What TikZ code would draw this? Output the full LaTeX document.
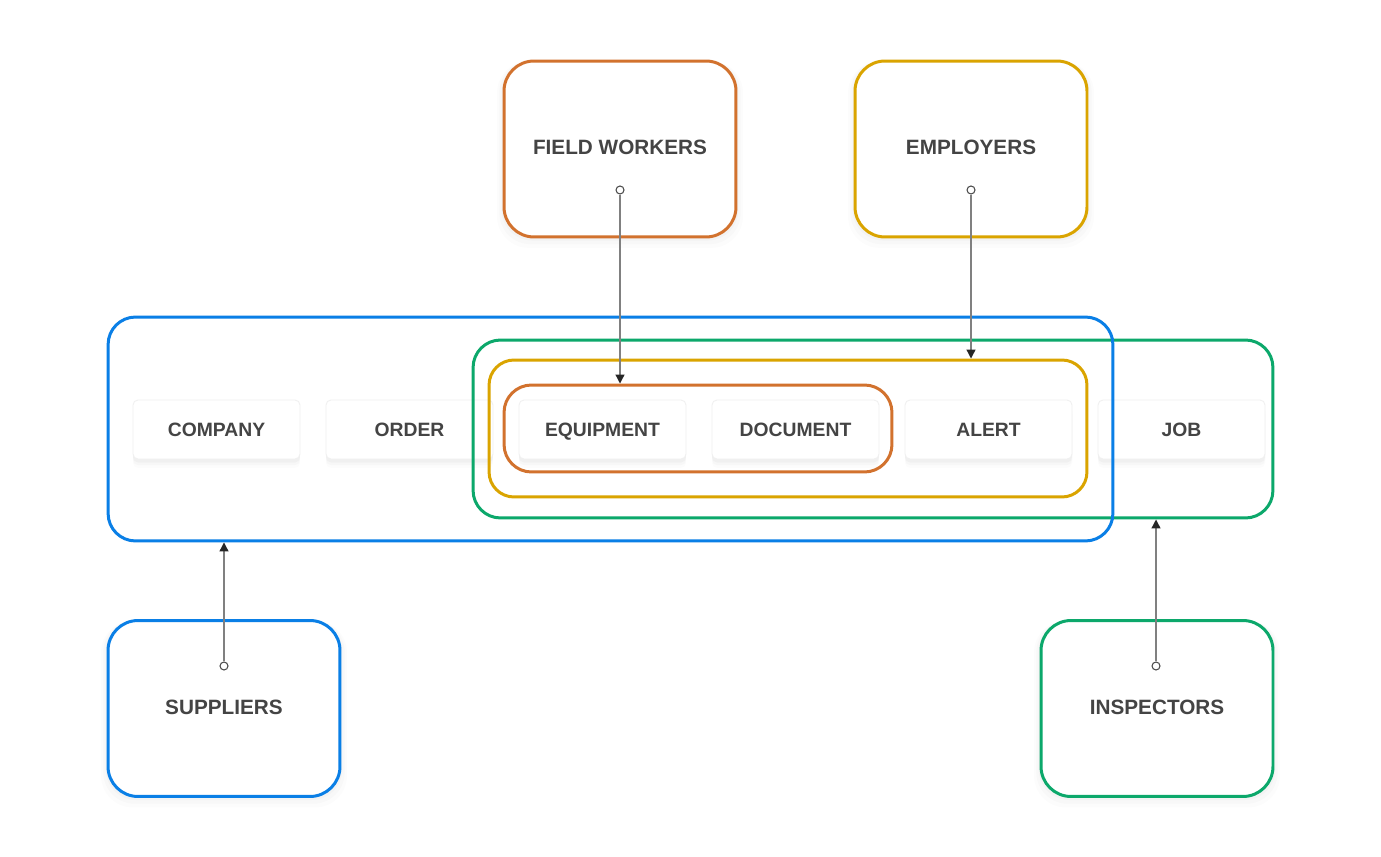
\documentclass[tikz,border=0pt]{standalone}
\usepackage{fontspec}
\setmainfont{Liberation Sans}
\usetikzlibrary{arrows.meta,shadows}
\definecolor{bluebox}{HTML}{0A7FE6}
\definecolor{greenbox}{HTML}{0CA86B}
\definecolor{yellowbox}{HTML}{DAA400}
\definecolor{orangebox}{HTML}{D2722E}
\definecolor{labelgray}{HTML}{444444}
\begin{document}
\begin{tikzpicture}[x=0.02cm,y=-0.02cm,
  actor/.style={draw,line width=1.7pt,rounded corners=0.6cm,fill=white,minimum width=4.64cm,minimum height=3.52cm,
    font=\bfseries\fontsize{11.8}{14}\selectfont,text=labelgray,text height=8.5pt,text depth=2pt,
    drop shadow={shadow xshift=0pt,shadow yshift=-3pt,shadow scale=1.06,opacity=.025},
    drop shadow={shadow xshift=0pt,shadow yshift=-2pt,shadow scale=1.04,opacity=.03},
    drop shadow={shadow xshift=0pt,shadow yshift=-1pt,shadow scale=1.02,opacity=.04}},
  entity/.style={draw=black!6,line width=0.5pt,rounded corners=0.1cm,fill=white,minimum width=3.34cm,minimum height=1.18cm,
    font=\bfseries\fontsize{11}{13}\selectfont,text=labelgray,text height=7.9pt,text depth=0pt,
    drop shadow={shadow xshift=0pt,shadow yshift=-5pt,opacity=.025},
    drop shadow={shadow xshift=0pt,shadow yshift=-3.5pt,opacity=.035},
    drop shadow={shadow xshift=0pt,shadow yshift=-2pt,opacity=.05}},
  group/.style={draw,line width=1.7pt,rounded corners=0.55cm,inner sep=0pt},
  port/.style={circle,draw=black!70,fill=white,line width=0.6pt,inner sep=0pt,minimum size=0.16cm},
  link/.style={draw=black!50,line width=0.7pt,-{Triangle[length=5pt,width=5pt,color=black!85]}}
]
\useasboundingbox[fill=white] (0,0) rectangle (1381,857);
\node[entity] (company) at (216.5,429.5) {COMPANY};
\node[entity] (order) at (409.5,429.5) {ORDER};
\node[entity] (equipment) at (602.5,429.5) {EQUIPMENT};
\node[entity] (document) at (795.5,429.5) {DOCUMENT};
\node[entity] (alert) at (988.5,429.5) {ALERT};
\node[entity] (job) at (1181.5,429.5) {JOB};
\node[group,greenbox,minimum width=16cm,minimum height=3.56cm] (green) at (873,429) {};
\node[group,bluebox,minimum width=20.1cm,minimum height=4.48cm] (blue) at (610.5,429) {};
\node[group,yellowbox,rounded corners=0.5cm,minimum width=11.96cm,minimum height=2.74cm] (yellow) at (788,428.5) {};
\node[group,orangebox,minimum width=7.76cm,minimum height=1.74cm] (orange) at (698,428.5) {};
\node[actor,draw=orangebox] (fieldworkers) at (620,149) {FIELD WORKERS};
\node[actor,draw=yellowbox] (employers) at (971,149) {EMPLOYERS};
\node[actor,draw=bluebox] (suppliers) at (224,708.5) {SUPPLIERS};
\node[actor,draw=greenbox] (inspectors) at (1157,708.5) {INSPECTORS};
\node[port] (fwport) at (620,190) {};
\node[port] (emport) at (971,190) {};
\node[port] (support) at (224,666) {};
\node[port] (insport) at (1156,666) {};
\draw[link] (fwport.south) -- (fwport |- orange.north);
\draw[link] (emport.south) -- (emport |- yellow.north);
\draw[link] (support.north) -- (support |- blue.south);
\draw[link] (insport.north) -- (insport |- green.south);
\end{tikzpicture}
\end{document}
